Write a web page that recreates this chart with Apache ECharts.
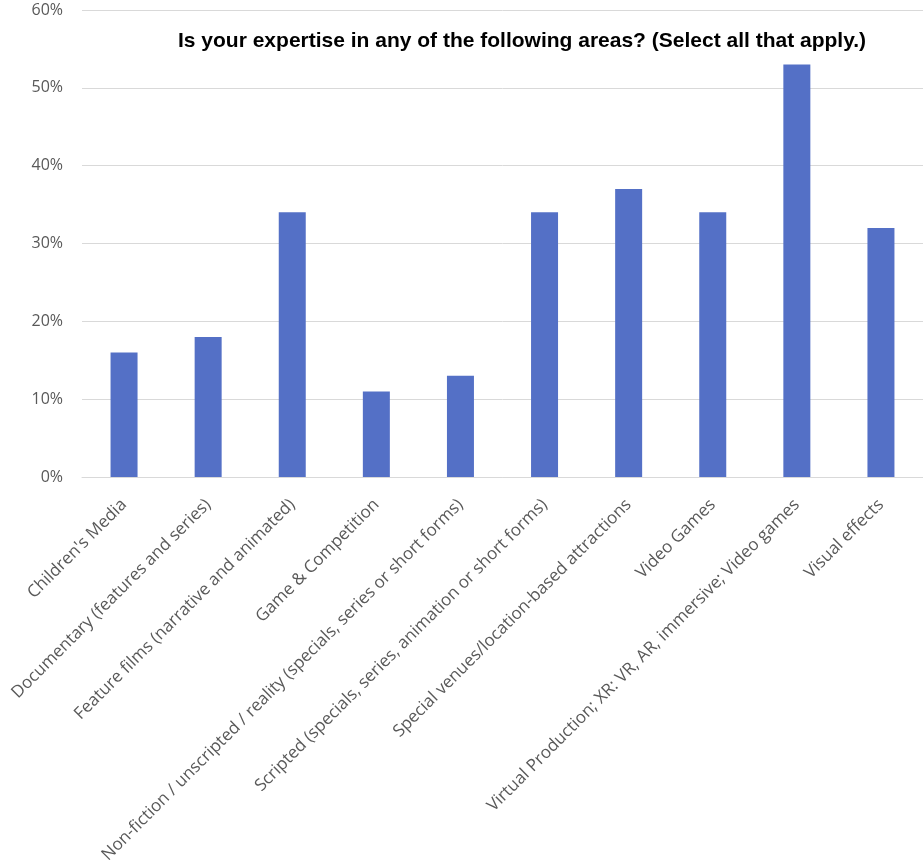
<!DOCTYPE html>
<html>
<head>
<meta charset="utf-8">
<script src="https://cdn.jsdelivr.net/npm/echarts@6/dist/echarts.min.js"></script>
<style>
  html, body { margin: 0; padding: 0; background: #fff; }
  #chart { width: 923px; height: 867px; }
</style>
</head>
<body>
<div id="chart"></div>
<script>
const titleText = 'Is your expertise in any of the following areas? (Select all that apply.)';

const categories = [
  "Children's Media",
  'Documentary (features and series)',
  'Feature films (narrative and animated)',
  'Game & Competition',
  'Non-fiction / unscripted / reality (specials, series or short forms)',
  'Scripted (specials, series, animation or short forms)',
  'Special venues/location-based attractions',
  'Video Games',
  'Virtual Production; XR: VR, AR, immersive; Video games',
  'Visual effects'
];

// share of respondents, percent
const shares = [16, 18, 34, 11, 13, 34, 37, 34, 53, 32];

const yMin = 0;
const yMax = 60;
const yStep = 10;

const chart = echarts.init(document.getElementById('chart'));
chart.setOption({
  animation: false,
  title: {
    text: titleText,
    left: 173,
    top: 26,
    textStyle: {
      fontFamily: 'Liberation Sans, Arial, sans-serif',
      fontWeight: 'bold',
      fontSize: 21,
      color: '#000'
    }
  },
  grid: { left: 82, right: -6, top: 10, bottom: 390, containLabel: false },
  xAxis: {
    type: 'category',
    data: categories,
    axisLine: { show: true, lineStyle: { color: '#d9d9d9', width: 1 } },
    axisTick: { show: false },
    axisLabel: {
      rotate: 45,
      interval: 0,
      margin: 25,
      fontFamily: 'Open Sans, sans-serif',
      fontSize: 17,
      color: '#595959'
    }
  },
  yAxis: {
    type: 'value',
    min: yMin,
    max: yMax,
    interval: yStep,
    axisLine: { show: false },
    axisTick: { show: false },
    splitLine: { lineStyle: { color: '#d9d9d9', width: 1 } },
    axisLabel: {
      margin: 19,
      fontFamily: 'Open Sans, sans-serif',
      fontSize: 16,
      color: '#595959',
      formatter: v => v + '%'
    }
  },
  series: [{
    type: 'bar',
    data: shares,
    barWidth: 27,
    itemStyle: { color: '#5470c6' }
  }]
});
</script>
</body>
</html>
